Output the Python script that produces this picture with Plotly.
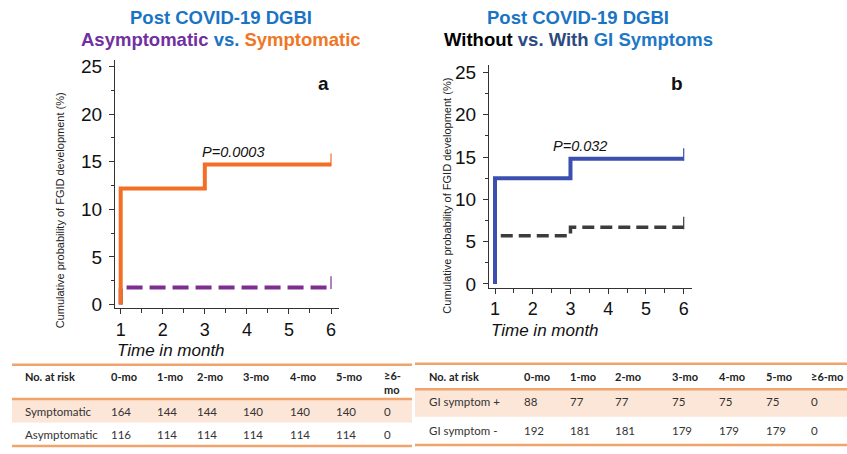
import plotly.graph_objects as go

W, H = 847, 454

# ---- Kaplan-Meier style cumulative incidence (%) ----
months_sym = [1, 1, 3, 6]
cum_sym = [0, 12.2, 14.7, 14.7]
months_asym = [1, 1, 6]
cum_asym = [0, 1.8, 1.8]

months_gi_pos = [1, 1, 3, 6]
cum_gi_pos = [0, 12.5, 14.8, 14.8]
months_gi_neg = [1, 1, 3, 6]
cum_gi_neg = [0, 5.7, 6.7, 6.7]

p_left = "P=0.0003"
p_right = "P=0.032"

# ---- numbers at risk ----
risk_cols = ["0-mo", "1-mo", "2-mo", "3-mo", "4-mo", "5-mo"]
risk_symptomatic = [164, 144, 144, 140, 140, 140, 0]
risk_asymptomatic = [116, 114, 114, 114, 114, 114, 0]
risk_gi_pos = [88, 77, 77, 75, 75, 75, 0]
risk_gi_neg = [192, 181, 181, 179, 179, 179, 0]

ORANGE = "#f26f25"
PURPLE = "#7d2e8f"
NAVY_LINE = "#3b4fae"
DARK = "#3c3c3c"
TITLE_BLUE = "#1a74c4"
TABLE_LINE = "#f0a36a"
TABLE_SHADE = "#fce6d8"


def px(x):
    return x / W


def py(y):
    return 1 - y / H


fig = go.Figure()


def km_curve(x, y, color, width, dash, xa, ya):
    fig.add_trace(go.Scatter(x=x, y=y, mode="lines", line_shape="hv",
                             line=dict(color=color, width=width, dash=dash),
                             xaxis=xa, yaxis=ya, hoverinfo="skip"))
    # censor tick at end of follow-up
    fig.add_trace(go.Scatter(x=[x[-1]], y=[y[-1] + 0.5], mode="markers",
                             marker=dict(symbol="line-ns-open", size=9, color=color,
                                         line=dict(color=color, width=1.2)),
                             xaxis=xa, yaxis=ya, hoverinfo="skip"))


# dashed reference groups underneath the solid groups
km_curve(months_asym, cum_asym, PURPLE, 4, "16px,7px", "x", "y")
km_curve(months_sym, cum_sym, ORANGE, 4, "solid", "x", "y")
km_curve(months_gi_neg, cum_gi_neg, DARK, 3.5, "12px,6px", "x2", "y2")
km_curve(months_gi_pos, cum_gi_pos, NAVY_LINE, 4, "solid", "x2", "y2")


def axes_common(xdom, ydom, xr, yr, anchor_x, anchor_y):
    xa = dict(domain=xdom, range=xr, anchor=anchor_y, showline=True, linecolor="#333",
              linewidth=1, showgrid=False, zeroline=False, tickmode="array",
              tickvals=[1, 2, 3, 4, 5, 6], ticks="outside", ticklen=5, tickcolor="#333",
              tickfont=dict(family="Arial, Liberation Sans", size=18, color="#111"),
              minor=dict(tickvals=[1.5, 2.5, 3.5, 4.5, 5.5], ticks="outside", ticklen=4,
                         tickcolor="#333"),
              fixedrange=True)
    ya = dict(domain=ydom, range=yr, anchor=anchor_x, showline=True, linecolor="#333",
              linewidth=1, showgrid=False, zeroline=False, tickmode="array",
              tickvals=[0, 5, 10, 15, 20, 25], ticks="outside", ticklen=5, tickcolor="#333",
              ticklabelstandoff=3,
              tickfont=dict(family="Arial, Liberation Sans", size=19, color="#111"),
              minor=dict(tickvals=[2.5, 7.5, 12.5, 17.5, 22.5], ticks="outside", ticklen=3,
                         tickcolor="#333"),
              fixedrange=True)
    return xa, ya


xa1, ya1 = axes_common([px(115), px(339)], [py(312), py(58)],
                       [0.8645, 6.19], [-0.38, 25.72], "x", "y")
xa2, ya2 = axes_common([px(489), px(692)], [py(291), py(63)],
                       [0.841, 6.22], [-0.43, 25.92], "x2", "y2")

ann = []
F = "Arial, Liberation Sans"

# titles
ann.append(dict(x=px(221), y=py(15), text="<b>Post COVID-19 DGBI</b>",
                font=dict(family=F, size=18.5, color=TITLE_BLUE)))
ann.append(dict(x=px(221), y=py(37),
                text="<b><span style='color:#7030a0'>Asymptomatic</span> "
                     "<span style='color:#1a74c4'>vs.</span> "
                     "<span style='color:#f07623'>Symptomatic</span></b>",
                font=dict(family=F, size=18.5)))
ann.append(dict(x=px(578), y=py(15), text="<b>Post COVID-19 DGBI</b>",
                font=dict(family=F, size=18.5, color=TITLE_BLUE)))
ann.append(dict(x=px(578), y=py(37),
                text="<b><span style='color:#000000'>Without</span> "
                     "<span style='color:#2b4a80'>vs. With</span> "
                     "<span style='color:#1e78c8'>GI Symptoms</span></b>",
                font=dict(family=F, size=18.5)))

# y-axis titles
ytitle = "Cumulative probability of FGID development (%)"
ann.append(dict(x=px(60), y=py(212), text=ytitle, textangle=-90,
                font=dict(family=F, size=11, color="#222")))
ann.append(dict(x=px(447), y=py(197), text=ytitle, textangle=-90,
                font=dict(family=F, size=11, color="#222")))

# x-axis titles
ann.append(dict(x=px(115), y=py(355), text="<i>Time in month</i>", xanchor="left",
                font=dict(family=F, size=17, color="#111")))
ann.append(dict(x=px(489), y=py(335), text="<i>Time in month</i>", xanchor="left",
                font=dict(family=F, size=17, color="#111")))

# panel letters and p-values
ann.append(dict(x=px(323), y=py(82), text="<b>a</b>", font=dict(family=F, size=19, color="#111")))
ann.append(dict(x=px(677), y=py(82), text="<b>b</b>", font=dict(family=F, size=19, color="#111")))
ann.append(dict(x=px(234), y=py(152), text="<i>" + p_left + "</i>",
                font=dict(family=F, size=14.5, color="#111")))
ann.append(dict(x=px(580), y=py(146), text="<i>" + p_right + "</i>",
                font=dict(family=F, size=14.5, color="#111")))

shapes = []

# ---- risk tables ----
TF = "Lato, Open Sans"


def risk_table(x0, x1, y_top, y_head_line, y_shade_bot, y_bot, y_head, y_r1, y_r2,
               col_x, label_x, rows, last_header):
    shapes.append(dict(type="rect", xref="paper", yref="paper", x0=px(x0), x1=px(x1),
                       y0=py(y_shade_bot), y1=py(y_head_line), fillcolor=TABLE_SHADE,
                       line_width=0, layer="below"))
    for yy in (y_top, y_head_line, y_bot):
        shapes.append(dict(type="line", xref="paper", yref="paper", x0=px(x0), x1=px(x1),
                           y0=py(yy), y1=py(yy), line=dict(color=TABLE_LINE, width=2.5)))
    ann.append(dict(x=px(label_x), y=py(y_head), text="<b>No. at risk</b>", xanchor="left",
                    font=dict(family=TF, size=11, color="#222")))
    headers = risk_cols + [last_header]
    for cx, h in zip(col_x, headers):
        yh = y_head + (6 if "<br>" in h else 0)
        ann.append(dict(x=px(cx), y=py(yh), text="<b>" + h + "</b>", xanchor="left",
                        align="left", font=dict(family=TF, size=11, color="#222")))
    for (name, vals), yy in zip(rows, (y_r1, y_r2)):
        ann.append(dict(x=px(label_x), y=py(yy), text=name, xanchor="left",
                        font=dict(family=TF, size=11.5, color="#333")))
        for cx, v in zip(col_x, vals):
            ann.append(dict(x=px(cx), y=py(yy), text=str(v), xanchor="left",
                            font=dict(family=TF, size=11.5, color="#333")))


risk_table(12, 412, 370, 405, 429, 453, 382, 418, 441,
           [109, 155, 195, 241, 288, 334, 382], 23,
           [("Symptomatic", risk_symptomatic), ("Asymptomatic", risk_asymptomatic)],
           "≥6-<br>mo")
risk_table(415, 847, 369, 395, 423, 452, 382, 407, 437,
           [522, 568, 613, 670, 717, 764, 809], 427,
           [("GI symptom +", risk_gi_pos), ("GI symptom -", risk_gi_neg)],
           "≥6-mo")

for a in ann:
    a.setdefault("xref", "paper")
    a.setdefault("yref", "paper")
    a.setdefault("showarrow", False)
    a.setdefault("xanchor", "center")
    a.setdefault("yanchor", "middle")

fig.update_layout(
    width=W, height=H, margin=dict(l=0, r=0, t=0, b=0),
    paper_bgcolor="white", plot_bgcolor="white", showlegend=False,
    xaxis=xa1, yaxis=ya1, xaxis2=xa2, yaxis2=ya2,
    annotations=ann, shapes=shapes,
)

fig.write_html("out.html", config={"displayModeBar": False})
